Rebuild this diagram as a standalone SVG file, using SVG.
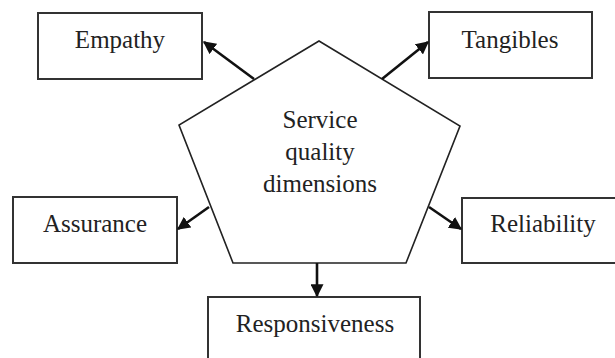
<svg xmlns="http://www.w3.org/2000/svg" width="615" height="358" viewBox="0 0 615 358">
<style>
.box{fill:#fff;stroke:#333;stroke-width:2}
.pent{fill:#fff;stroke:#222;stroke-width:1.6}
.lbl{font-family:"Liberation Serif","Times New Roman",serif;font-size:25px;fill:#222;text-anchor:middle}
.conn{stroke:#111;stroke-width:2.6;fill:none;marker-end:url(#ah)}
</style>
<defs>
<marker id="ah" viewBox="0 0 10 10" refX="9" refY="5" markerWidth="5" markerHeight="5" markerUnits="strokeWidth" orient="auto">
<path d="M0,0 L10,5 L0,10 z" fill="#111"/>
</marker>
</defs>
<rect width="615" height="358" fill="#fff"/>
<g id="center">
<polygon class="pent" points="319,41 460,126 406,263 233,263 179,125"/>
<text class="lbl" x="320" y="128">Service</text>
<text class="lbl" x="320" y="160">quality</text>
<text class="lbl" x="320" y="192">dimensions</text>
</g>
<g id="empathy">
<rect class="box" x="38" y="13" width="164" height="66"/>
<text class="lbl" x="120" y="48">Empathy</text>
</g>
<g id="tangibles">
<rect class="box" x="429" y="12" width="163" height="66"/>
<text class="lbl" x="510" y="48">Tangibles</text>
</g>
<g id="assurance">
<rect class="box" x="13" y="197" width="164" height="66"/>
<text class="lbl" x="95" y="232">Assurance</text>
</g>
<g id="reliability">
<rect class="box" x="462" y="198" width="160" height="65"/>
<text class="lbl" x="543" y="232">Reliability</text>
</g>
<g id="responsiveness">
<rect class="box" x="208" y="297" width="212" height="70"/>
<text class="lbl" x="315" y="332">Responsiveness</text>
</g>
<g id="connectors">
<line class="conn" x1="254" y1="79" x2="204" y2="42"/>
<line class="conn" x1="382" y1="79" x2="428" y2="42"/>
<line class="conn" x1="209" y1="207" x2="178" y2="229"/>
<line class="conn" x1="429" y1="207" x2="461" y2="229"/>
<line class="conn" x1="317" y1="263" x2="317" y2="296"/>
</g>
</svg>
